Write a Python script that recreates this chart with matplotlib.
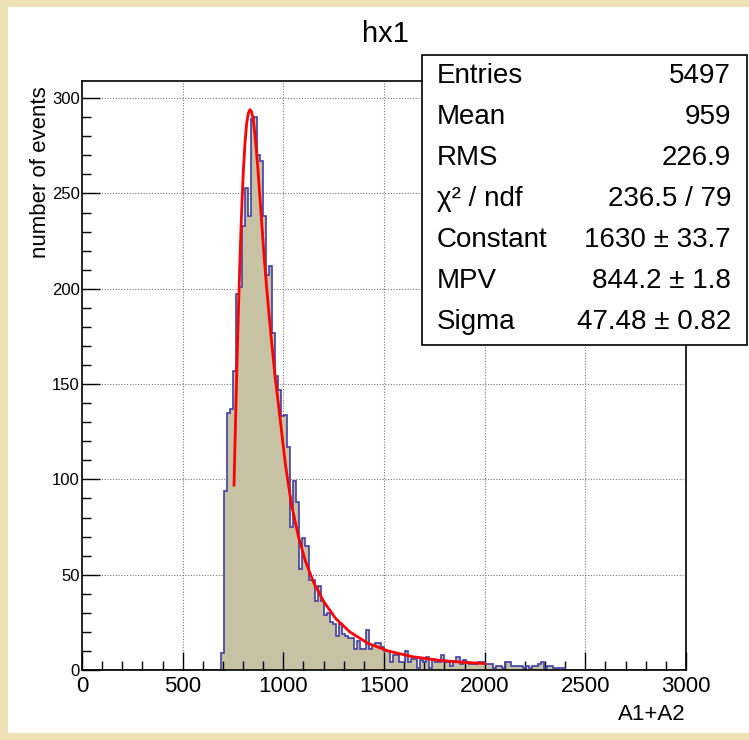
import numpy as np
import matplotlib
matplotlib.use("Agg")
import matplotlib.pyplot as plt
from matplotlib.patches import Rectangle
from matplotlib.ticker import MultipleLocator

plt.rcParams["font.family"] = ["Liberation Sans", "DejaVu Sans"]

TITLE = "hx1"
X_LABEL = "A1+A2"
Y_LABEL = "number of events"

# histogram binning: 200 bins of 15 over 0..3000
BIN_WIDTH = 15
X_MIN, X_MAX = 0, 3000
Y_MAX = 309
FIRST_BIN = 690  # lower edge of first non-empty bin

counts = [
    9, 94, 135, 137, 157, 197, 201, 233, 253, 238,            # 690 - 825
    289, 290, 270, 267, 238, 207, 212, 177, 154, 147,         # 840 - 975
    133, 134, 117, 75, 99, 88, 53, 69, 65, 47,                # 990 - 1125
    47, 36, 44, 36, 29, 30, 25, 24, 18, 24,                   # 1140 - 1275
    19, 18, 17, 17, 11, 15, 11, 11, 21, 11,                   # 1290 - 1425
    13, 14, 14, 12, 10, 10, 4, 8, 8, 4,                       # 1440 - 1575
    4, 10, 4, 6, 6, 1, 5, 4, 7, 1,                            # 1590 - 1725
    6, 4, 4, 8, 4, 4, 2, 4, 7, 3,                             # 1740 - 1875
    5, 4, 3, 3, 3, 4, 4, 3, 3, 3,                             # 1890 - 2025
    1, 2, 2, 1, 4, 4, 2, 2, 2, 2,                             # 2040 - 2175
    1, 2, 1, 2, 2, 3, 4, 1, 2, 2,                             # 2190 - 2325
    1, 1, 1, 1,                                               # 2340 - 2385
]

# Landau fit curve
fit_x = [755, 762, 770, 778, 786, 794, 802, 810, 818, 826, 834, 842, 850,
         858, 866, 875, 885, 895, 905, 920, 940, 960, 985, 1010, 1040, 1075,
         1110, 1150, 1200, 1260, 1330, 1420, 1520, 1640, 1780, 1900, 2000]
fit_y = [97, 128, 162, 192, 220, 244, 263, 277, 287, 292, 294, 293, 289,
         282, 273, 261, 246, 231, 216, 197, 174, 153, 131, 108, 87, 70,
         57, 46, 36, 27, 20, 14, 10, 7, 5, 4, 3.4]

stats_labels = ["Entries", "Mean", "RMS", "\u03c7\u00b2 / ndf", "Constant", "MPV", "Sigma"]
stats_values = ["5497", "959", "226.9", "236.5 / 79", "1630 \u00b1 33.7",
                "844.2 \u00b1 1.8", "47.48 \u00b1 0.82"]

FILL = "#c7c2a3"
LINE = "#3f3fa6"
W, H = 749, 740


def fx(px):
    return px / W


def fy(py):
    return 1 - py / H


fig = plt.figure(figsize=(W / 100, H / 100), dpi=100)
fig.patch.set_facecolor("#efe2b6")
fig.patches.append(Rectangle((fx(8), fy(733)), fx(749) - fx(8), fy(7) - fy(733),
                             transform=fig.transFigure, facecolor="white",
                             edgecolor="none", zorder=-1))

ax = fig.add_axes([fx(82), fy(670), fx(686) - fx(82), fy(81) - fy(670)])
ax.set_zorder(1)
ax.set_xlim(X_MIN, X_MAX)
ax.set_ylim(0, Y_MAX)

edges = np.arange(X_MIN, X_MAX + BIN_WIDTH, BIN_WIDTH)
full = np.zeros(len(edges) - 1)
i0 = FIRST_BIN // BIN_WIDTH
full[i0:i0 + len(counts)] = counts

ax.xaxis.set_major_locator(MultipleLocator(500))
ax.xaxis.set_minor_locator(MultipleLocator(100))
ax.yaxis.set_major_locator(MultipleLocator(50))
ax.yaxis.set_minor_locator(MultipleLocator(10))

# dotted grid behind the histogram
for v in ax.get_xticks():
    if X_MIN < v < X_MAX:
        ax.axvline(v, color="#777777", ls=(0, (1, 1.5)), lw=0.8, zorder=0.5)
for v in ax.get_yticks():
    if 0 < v < Y_MAX:
        ax.axhline(v, color="#777777", ls=(0, (1, 1.5)), lw=0.8, zorder=0.5)

ax.stairs(full, edges, fill=True, color=FILL, zorder=1)
ax.stairs(full, edges, color=LINE, lw=1.2, zorder=2)
ax.plot(fit_x, fit_y, color="red", lw=2, zorder=3)

ax.tick_params(which="both", direction="in", top=False, right=False)
ax.tick_params(axis="x", which="major", length=13, width=1, labelsize=16, pad=4)
ax.tick_params(axis="x", which="minor", length=6.5, width=1)
ax.tick_params(axis="y", which="major", length=13, width=1, labelsize=12, pad=1.5)
ax.tick_params(axis="y", which="minor", length=6.5, width=1)
for s in ax.spines.values():
    s.set_linewidth(1.2)

fig.text(fx(385), fy(34), TITLE, ha="center", va="center", fontsize=21)
fig.text(fx(686), fy(714), X_LABEL, ha="right", va="center", fontsize=16)
fig.text(fx(41), fy(86), Y_LABEL, ha="center", va="top", rotation=90, fontsize=16)

# stats box
fig.patches.append(Rectangle((fx(422), fy(345)), fx(747) - fx(422), fy(55) - fy(345),
                             transform=fig.transFigure, facecolor="white",
                             edgecolor="black", lw=1.2, zorder=5))
for k, (lab, val) in enumerate(zip(stats_labels, stats_values)):
    y = fy(76 + k * 41)
    fig.text(fx(437), y, lab, ha="left", va="center", fontsize=20, zorder=6)
    fig.text(fx(731), y, val, ha="right", va="center", fontsize=20, zorder=6)

fig.savefig("out.png", dpi=100)
